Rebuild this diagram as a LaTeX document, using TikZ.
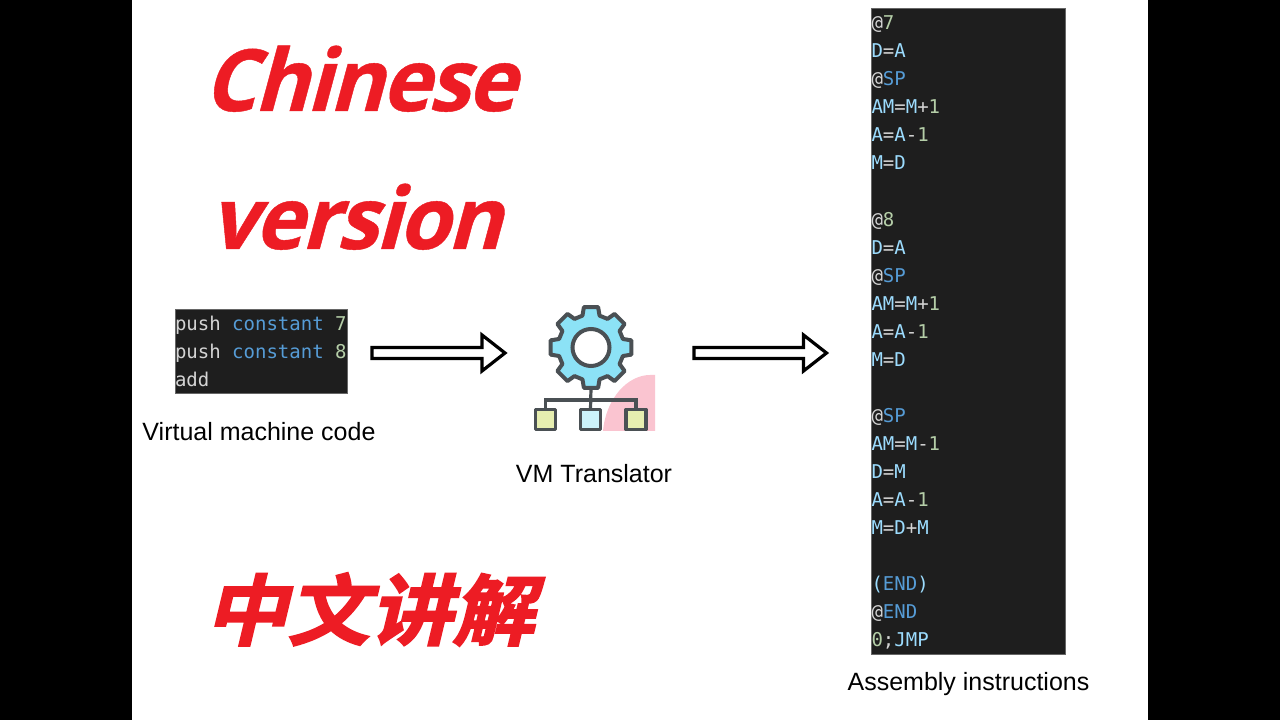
\documentclass[tikz,border=0pt]{standalone}
\usepackage{xcolor}
\usepackage{fontspec}
\usepackage{tikz}
\usetikzlibrary{calc}
\setmainfont{Liberation Sans}
\newfontfamily\titlefont[FakeSlant=0.27,FakeBold=0.5,FakeStretch=0.97,LetterSpace=-3]{Open Sans Bold}
\newfontfamily\cjktitle[FakeSlant=0.24,FakeBold=2.4,FakeStretch=1.07]{Noto Sans CJK SC Bold}
\newfontfamily\codefont{DejaVu Sans Mono}
\definecolor{titleColor}{RGB}{237,28,36}
\definecolor{panelColor}{RGB}{30,30,30}
\definecolor{plainColor}{RGB}{212,212,212}
\definecolor{keyColor}{RGB}{86,156,214}
\definecolor{regColor}{RGB}{156,220,254}
\definecolor{numColor}{RGB}{181,206,168}
\definecolor{iconColor}{RGB}{74,80,84}
\definecolor{gearColor}{RGB}{140,226,246}
\definecolor{pinkColor}{RGB}{250,196,208}
\definecolor{leafColor}{RGB}{230,238,176}
\definecolor{midColor}{RGB}{204,242,250}
\tikzset{
  titletext/.style={text=titleColor,anchor=base west,inner sep=0pt,outer sep=0pt},
  caption/.style={text=black,anchor=base,inner sep=0pt,outer sep=0pt,font=\fontsize{25}{29}\selectfont},
  codeline/.style={text=plainColor,anchor=base west,inner sep=0pt,outer sep=0pt,font=\fontsize{19}{23}\codefont},
  panel/.style={fill=panelColor,draw=black!60,line width=0.4pt,inner sep=0pt,outer sep=0pt,anchor=south west},
  leaf/.style={draw=iconColor,line width=3.4pt,line join=round,minimum size=20pt,inner sep=0pt,outer sep=0pt},
  blockarrow/.style={draw=black,fill=white,line width=3.2pt,line join=miter,
    to path={let \p1=(\tikztostart),\p2=(\tikztotarget) in
      (\x1,\y1+5.5) -- (\x2-24,\y1+5.5) -- (\x2-24,\y1+18) -- (\x2-1,\y1)
      -- (\x2-24,\y1-18) -- (\x2-24,\y1-5.5) -- (\x1,\y1-5.5) -- cycle}}
}
\newcommand{\K}[1]{\textcolor{keyColor}{#1}}
\newcommand{\R}[1]{\textcolor{regColor}{#1}}
\newcommand{\N}[1]{\textcolor{numColor}{#1}}
\begin{document}
\begin{tikzpicture}[x=1pt,y=1pt]
\path[use as bounding box,fill=white] (0,0) rectangle (1280,720);
\fill[black] (0,0) rectangle (132,720);
\fill[black] (1148,0) rectangle (1280,720);

% titles
\node[titletext,font=\fontsize{86}{92}\titlefont] (titleen) at (203,609) {Chinese};
\node[titletext,font=\fontsize{86}{92}\titlefont] (titlever) at (209,471) {version};
\node[titletext,font=\fontsize{77}{83}\cjktitle] (titlecn) at (205,81) {中文讲解};

% vm code
\node[panel,minimum width=172pt,minimum height=84pt] (vmcode) at (175,327) {};
\node[codeline] (vmone) at (175,389) {push \K{constant} \N{7}};
\node[codeline] (vmtwo) at (175,361) {push \K{constant} \N{8}};
\node[codeline] (vmthree) at (175,333) {add};
\node[caption] (vmcap) at (259,279.5) {Virtual machine code};

% translator icon
\path[fill=pinkColor] (603,289) .. controls (606,322) and (628,345) .. (650,345) -- (655,345) -- (655,289) -- cycle;
\begin{scope}[shift={(591,372.5)}]
\draw[draw=iconColor,fill=gearColor,line width=4pt,line join=round]
  (-15:33) \foreach \a in {0,45,...,315}{ -- (\a-15:33) -- (\a-10:41) -- (\a+10:41) -- (\a+15:33) } -- cycle;
\draw[draw=iconColor,fill=white,line width=4pt] (0,0) circle (18.5);
\end{scope}
\coordinate (gearfoot) at (591,332);
\coordinate (hub) at (591,320);
\node[leaf,fill=leafColor] (leafa) at (545.5,300.5) {};
\node[leaf,fill=midColor] (leafb) at (590.5,300.5) {};
\node[leaf,fill=leafColor] (leafc) at (636,300.5) {};
\draw[draw=iconColor,line width=3.2pt] (gearfoot) -- (leafb.north);
\draw[draw=iconColor,line width=3.2pt] (hub) -| (leafa.north);
\draw[draw=iconColor,line width=3.2pt] (hub) -| (leafc.north);
\node[caption] (transcap) at (594,237.5) {VM Translator};
\coordinate (iconleft) at (533,367);
\coordinate (iconright) at (655,367);

% assembly
\node[panel,minimum width=194pt,minimum height=646pt] (asmcode) at (871.5,66) {};
\node[codeline] (asma) at (871.5,690) {@\N{7}};
\node[codeline] (asmb) at (871.5,662) {\R{D}=\R{A}};
\node[codeline] (asmc) at (871.5,634) {@\K{SP}};
\node[codeline] (asmd) at (871.5,606) {\R{AM}=\R{M}+\N{1}};
\node[codeline] (asme) at (871.5,578) {\R{A}=\R{A}-\N{1}};
\node[codeline] (asmf) at (871.5,550) {\R{M}=\R{D}};
\node[codeline] (asmg) at (871.5,493) {@\N{8}};
\node[codeline] (asmh) at (871.5,465) {\R{D}=\R{A}};
\node[codeline] (asmi) at (871.5,437) {@\K{SP}};
\node[codeline] (asmj) at (871.5,409) {\R{AM}=\R{M}+\N{1}};
\node[codeline] (asmk) at (871.5,381) {\R{A}=\R{A}-\N{1}};
\node[codeline] (asml) at (871.5,353) {\R{M}=\R{D}};
\node[codeline] (asmm) at (871.5,297) {@\K{SP}};
\node[codeline] (asmn) at (871.5,269) {\R{AM}=\R{M}-\N{1}};
\node[codeline] (asmo) at (871.5,241) {\R{D}=\R{M}};
\node[codeline] (asmp) at (871.5,213) {\R{A}=\R{A}-\N{1}};
\node[codeline] (asmq) at (871.5,185) {\R{M}=\R{D}+\R{M}};
\node[codeline] (asmr) at (871.5,129) {\R{(}\K{END}\R{)}};
\node[codeline] (asms) at (871.5,101) {@\K{END}};
\node[codeline] (asmt) at (871.5,73) {\N{0};\R{JMP}};
\node[caption] (asmcap) at (968.5,29.5) {Assembly instructions};

% arrows
\draw[blockarrow] ([xshift=25]vmcode.east |- iconleft) to ([xshift=-27]iconleft);
\draw[blockarrow] ([xshift=39]iconright) to ([xshift=-44]asmcode.west |- iconright);
\end{tikzpicture}
\end{document}
